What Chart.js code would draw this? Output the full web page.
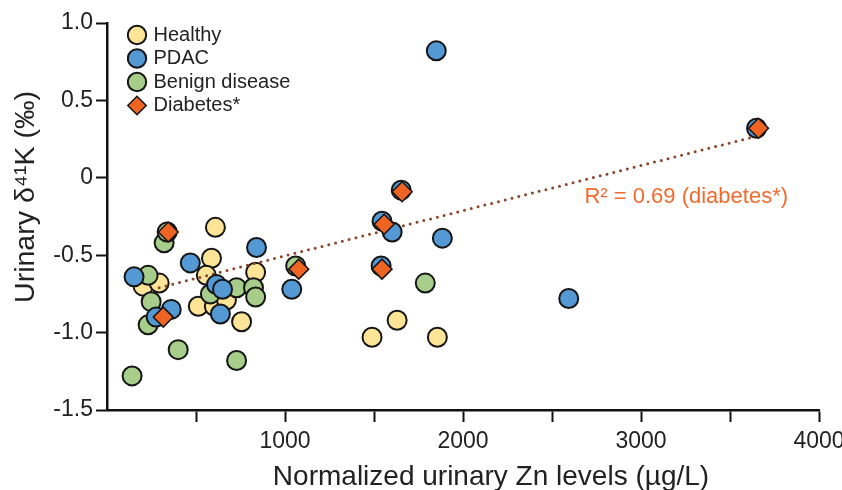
<!DOCTYPE html>
<html>
<head>
<meta charset="utf-8">
<script src="https://cdn.jsdelivr.net/npm/chart.js@4.4.1/dist/chart.umd.min.js"></script>
<style>
  html, body { margin: 0; padding: 0; background: #fff; }
  #wrap { width: 842px; height: 490px; position: relative; }
</style>
</head>
<body>
<div id="wrap"><canvas id="c" width="842" height="490"></canvas></div>
<script>
// ---- Data ----
const seriesNames = ['Healthy', 'PDAC', 'Benign disease', 'Diabetes*'];

const healthyX = [203, 293, 587, 558, 609, 835, 513, 603, 756, 1630, 1489, 1856, 671];
const healthyY = [-0.70, -0.68, -0.52, -0.63, -0.32, -0.61, -0.83, -0.83, -0.93, -0.92, -1.03, -1.03, -0.79];

const pdacX = [152, 468, 840, 615, 649, 637, 361, 276, 1038, 1850, 3649, 2594, 1884, 1653, 1545, 1602, 1540];
const pdacY = [-0.64, -0.55, -0.45, -0.69, -0.72, -0.88, -0.85, -0.90, -0.72, 0.82, 0.32, -0.78, -0.39, -0.08, -0.28, -0.35, -0.57];

const benignX = [231, 248, 231, 400, 141, 728, 581, 728, 823, 835, 321, 338, 1060, 1788];
const benignY = [-0.63, -0.80, -0.95, -1.11, -1.28, -1.18, -0.75, -0.71, -0.71, -0.77, -0.42, -0.35, -0.57, -0.68];

const diabetesX = [344, 1077, 1557, 1658, 1545, 3660, 316];
const diabetesY = [-0.35, -0.59, -0.30, -0.09, -0.59, 0.32, -0.90];

const trendX = [293, 3640];
const trendY = [-0.71, 0.266];

const xTickValues = [1000, 2000, 3000, 4000];
const yTickValues = [1.0, 0.5, 0, -0.5, -1.0, -1.5];

const annotationText = 'R\u00B2 = 0.69 (diabetes*)';
const annotationPos = [3254, -0.122];

const xTitle = 'Normalized urinary Zn levels (\u00B5g/L)';
const yTitle = 'Urinary \u03B4\u2074\u00B9K (\u2030)';

// ---- helpers ----
const toPts = (xs, ys) => xs.map((x, i) => ({ x: x, y: ys[i] }));
const FONT = "'Liberation Sans', Arial, Helvetica, sans-serif";

const annotationPlugin = {
  id: 'r2label',
  afterDatasetsDraw(chart) {
    const { ctx, scales } = chart;
    const px = scales.x.getPixelForValue(annotationPos[0]);
    const py = scales.y.getPixelForValue(annotationPos[1]);
    ctx.save();
    ctx.font = '22px ' + FONT;
    ctx.fillStyle = '#F26B2E';
    ctx.textAlign = 'center';
    ctx.textBaseline = 'middle';
    ctx.fillText(annotationText, px, py);
    ctx.restore();
  }
};

// axis titles, placed like the reference (offset from the scale centres)
const axisTitlePlugin = {
  id: 'axisTitles',
  afterDraw(chart) {
    const { ctx, chartArea } = chart;
    ctx.save();
    ctx.fillStyle = '#222';
    ctx.textAlign = 'center';
    ctx.textBaseline = 'alphabetic';
    ctx.font = '28px ' + FONT;
    ctx.fillText(xTitle, chartArea.left + 384, chart.height - 5);
    ctx.translate(33.5, chartArea.top + 174);
    ctx.rotate(-Math.PI / 2);
    ctx.font = '28.5px ' + FONT;
    ctx.fillText(yTitle, 0, 0);
    ctx.restore();
  }
};

const legendShift = {
  id: 'legendShift',
  afterLayout(chart) {
    if (chart.legend) {
      chart.legend.left = chart.chartArea.left + 20;
      chart.legend.top = chart.chartArea.top - 1.5;
    }
  }
};

const pointBorder = '#151515';

new Chart(document.getElementById('c'), {
  type: 'scatter',
  data: {
    datasets: [
      {
        label: seriesNames[0],
        data: toPts(healthyX, healthyY),
        backgroundColor: '#FDE496',
        borderColor: pointBorder,
        borderWidth: 2,
        pointRadius: 9.5,
        pointStyle: 'circle',
        order: 4
      },
      {
        label: seriesNames[1],
        data: toPts(pdacX, pdacY),
        backgroundColor: '#5498D4',
        borderColor: pointBorder,
        borderWidth: 2,
        pointRadius: 9.5,
        pointStyle: 'circle',
        order: 1
      },
      {
        label: seriesNames[2],
        data: toPts(benignX, benignY),
        backgroundColor: '#A6CE8A',
        borderColor: pointBorder,
        borderWidth: 2,
        pointRadius: 9.5,
        pointStyle: 'circle',
        order: 2
      },
      {
        label: seriesNames[3],
        data: toPts(diabetesX, diabetesY),
        backgroundColor: '#F06423',
        borderColor: pointBorder,
        borderWidth: 1.5,
        pointRadius: 10,
        pointStyle: 'rectRot',
        order: 0
      },
      {
        label: 'trend',
        type: 'line',
        data: toPts(trendX, trendY),
        borderColor: '#8A4628',
        borderWidth: 3,
        borderDash: [0, 7],
        borderCapStyle: 'round',
        pointRadius: 0,
        fill: false,
        order: 3
      }
    ]
  },
  options: {
    responsive: false,
    animation: false,
    devicePixelRatio: 1,
    layout: { padding: { left: 8, right: 23, top: 23, bottom: 0 } },
    plugins: {
      tooltip: { enabled: false },
      legend: {
        position: 'chartArea',
        align: 'start',
        labels: {
          usePointStyle: true,
          boxWidth: 13,
          boxHeight: 13,
          padding: 3.5,
          color: '#222',
          font: { family: FONT, size: 20 },
          filter: (item) => item.text !== 'trend',
          sort: (a, b) => a.datasetIndex - b.datasetIndex
        }
      }
    },
    scales: {
      x: {
        type: 'linear',
        min: 0,
        max: 4000,
        afterFit(scale) { scale.height = 80; scale.paddingRight = 0; scale.paddingLeft = 0; },
        afterBuildTicks(scale) {
          const vals = [0, 500].concat(xTickValues.flatMap(v => v < 4000 ? [v, v + 500] : [v]));
          scale.ticks = vals.map(v => ({ value: v }));
        },
        ticks: {
          color: '#222',
          font: { family: FONT, size: 23 },
          padding: 6,
          maxRotation: 0,
          autoSkip: false,
          callback: (v) => xTickValues.includes(v) ? String(v) : ''
        },
        grid: {
          drawOnChartArea: false,
          drawTicks: true,
          tickLength: 12,
          tickWidth: 2,
          tickColor: (ctx) => (ctx.tick && ctx.tick.value === 0) ? 'rgba(0,0,0,0)' : '#111'
        },
        border: { display: true, color: '#111', width: 2.5 },
        title: { display: false }
      },
      y: {
        type: 'linear',
        min: -1.5,
        max: 1.0,
        afterFit(scale) { scale.width = 99; },
        afterBuildTicks(scale) {
          scale.ticks = yTickValues.slice().reverse().map(v => ({ value: v }));
        },
        ticks: {
          color: '#222',
          font: { family: FONT, size: 23 },
          padding: 3,
          autoSkip: false,
          callback: (v) => v === 0 ? '0' : v.toFixed(1)
        },
        grid: {
          drawOnChartArea: false,
          drawTicks: true,
          tickLength: 11,
          tickWidth: 2,
          tickColor: '#111'
        },
        border: { display: true, color: '#111', width: 2.5 },
        title: { display: false }
      }
    }
  },
  plugins: [annotationPlugin, axisTitlePlugin, legendShift]
});
</script>
</body>
</html>
